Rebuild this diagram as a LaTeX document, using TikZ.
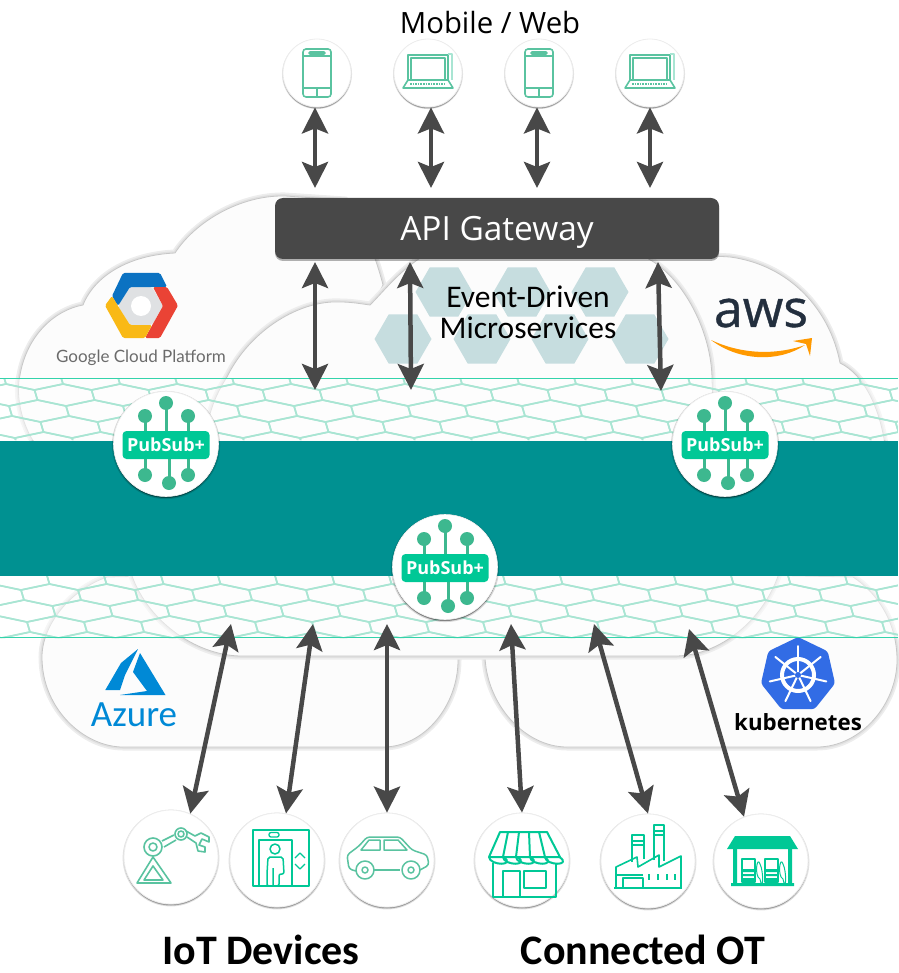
\documentclass[tikz,border=0pt]{standalone}
\usepackage{fontspec}
\setmainfont{Carlito}
\newfontfamily\sansfont{Open Sans}
\newfontfamily\logofont{Lato}
\newfontfamily\awsfont[FakeBold=0.7]{Open Sans}
\usetikzlibrary{arrows.meta,shadows,shapes.geometric}

\definecolor{bandteal}{HTML}{009191}
\definecolor{meshgreen}{HTML}{A9E5D3}
\definecolor{brightgreen}{HTML}{00C896}
\definecolor{softgreen}{HTML}{3DB88F}
\definecolor{linegray}{HTML}{484848}
\definecolor{cloudwhite}{HTML}{FCFCFC}
\definecolor{hexblue}{HTML}{C6DDDF}
\definecolor{helmblue}{HTML}{326CE5}
\definecolor{awsnavy}{HTML}{232F3E}
\definecolor{awsorange}{HTML}{FF9900}
\definecolor{azureblue}{HTML}{0089D6}
\definecolor{gcpblue}{HTML}{0B72C2}
\definecolor{gcpred}{HTML}{EA4335}
\definecolor{gcpyellow}{HTML}{F9B916}
\definecolor{gcpgray}{HTML}{DFE1E3}

\tikzset{
  softline/.style={draw=softgreen!85,line width=1.6pt,line join=round,fill=none},
  brightline/.style={draw=brightgreen,line width=2pt,line join=round,fill=none},
  pics/pubsub/.style={code={
    \node [badge] (-disc) at (0,0) {};
    \foreach \dx/\dy in {-21/-28,0/-41,22/-28,-21/31,3/39,22/31} {
      \draw [draw=softgreen,line width=3pt] (\dx,0) -- (\dx,\dy);
      \fill [softgreen] (\dx,\dy) circle [radius=7];
    }
    \node [pubsubtag] (-tag) at (0,1) {PubSub+};
  }},
  pics/phoneicon/.style={code={
    \draw [softline,rounded corners=3pt] (-14,-24) rectangle (14,24);
    \draw [softline] (-14,-17) -- (14,-17) (-14,15) -- (14,15) (0,15) -- (0,24);
    \draw [softline,rounded corners=1pt] (-8,-21) rectangle (8,-19);
  }},
  pics/laptopicon/.style={code={
    \draw [softline] (-20,7) -- (-20,-18) -- (20,-18) -- (20,7);
    \draw [softline] (-17,7) -- (-17,-15) -- (17,-15) -- (17,7);
    \draw [softline,draw=meshgreen] (24,7) -- (24,-19) -- (20,-19);
    \draw [softline] (-20,7) -- (20,7) -- (25,15) -- (-25,15) -- cycle;
    \draw [softline,densely dotted] (-18,11) -- (18,11);
  }},
  pics/roboticon/.style={code={
    \draw [softline] (-18,0) -- (-34,26) -- (0,26) -- cycle;
    \draw [softline] (-18,9) -- (-27,23) -- (-8,23) -- cycle;
    \draw [softline] (-18,-10) circle [radius=9] (-18,-10) circle [radius=4];
    \draw [softline] (-9,-16) -- (3,-22) (-7,-10) -- (5,-17);
    \draw [softline] (10,-23) circle [radius=6] (10,-23) circle [radius=3];
    \draw [softline] (16,-20) -- (25,-14) -- (27,-6) -- (34,-5) -- (34,-10) -- (28,-12)
      -- (31,-18) -- (38,-15) -- (38,-20) -- (30,-24) -- (24,-21) -- (15,-26);
  }},
  pics/elevatoricon/.style={code={
    \draw [brightline,line width=1.5pt] (-24,-30) rectangle (32,26);
    \draw [brightline,line width=1.5pt] (-18,26) -- (-18,-20) -- (15,-20) -- (15,26);
    \draw [brightline,line width=1.3pt,rounded corners=2pt] (-8,-27.5) rectangle (2,-23);
    \draw [brightline,line width=1.5pt] (-2,-11) circle [radius=5];
    \draw [brightline,line width=1.5pt,rounded corners=2pt] (-4,26) -- (-4,8) (-4,26) -- (-10,26) -- (-10,14) -- (-9,-3) -- (6,-3) -- (7,14)
      -- (2,14) -- (2,26) -- (-4,26);
    \draw [brightline,line width=1.3pt] (18,-2) -- (23,-7) -- (28,-2) (18,4) -- (23,9) -- (28,4);
  }},
  pics/caricon/.style={code={
    \draw [softline,line width=1.5pt,rounded corners=3pt] (-31,11) -- (-38,9) -- (-40,-5) -- (-28,-14) -- (-20,-23) -- (13,-23) -- (25,-10) -- (40,-5)
      -- (42,5) -- (33,10);
    \draw [softline,line width=1.5pt] (-13,10) -- (13,10);
    \draw [softline,line width=1.5pt] (-22,10) circle [radius=9] (-22,10) circle [radius=3];
    \draw [softline,line width=1.5pt] (24,10) circle [radius=9] (24,10) circle [radius=3];
    \draw [softline,line width=1.5pt] (-26,-10) -- (-18,-20) -- (-7,-20) -- (-7,-10) -- cycle;
    \draw [softline,line width=1.5pt] (-3,-10) -- (-3,-20) -- (11,-20) -- (20,-10) -- cycle;
  }},
  pics/storeicon/.style={code={
    \draw [brightline] (-22,-28) -- (25,-28) -- (38,-3) -- (-33,-3) -- cycle;
    \foreach \xa/\xb in {-14/-19,-3/-6,7/8,17/23} { \draw [brightline] (\xa,-28) -- (\xb,-3); }
    \foreach \xc in {-33,-19,-6,8,23} {
      \draw [brightline] (\xc,-3) .. controls +(1,9) and +(13,9) .. ++(14.5,0);
    }
    \draw [brightline] (-29,3) -- (-29,37) -- (34,37) -- (34,3);
    \draw [brightline] (-19,37) -- (-19,11) -- (-2,11) -- (-2,37);
    \draw [brightline] (2,11) rectangle (24,28);
  }},
  pics/factoryicon/.style={code={
    \draw [brightline,line width=1.6pt] (-32,26) -- (-32,6) -- (-11,-4) -- (-10,6) -- (11,-6) -- (11,6) -- (33,-5) -- (33,26);
    \draw [brightline,line width=1.6pt] (-16,1) -- (-16,-26) -- (-4,-26) -- (-4,-2) (6,-1) -- (6,-36) -- (16,-36) -- (16,0);
    \draw [brightline,line width=1.6pt] (-16,-20) -- (-4,-20) (-16,-16) -- (-4,-16) (6,-30) -- (16,-30) (6,-26) -- (16,-26);
    \draw [brightline,line width=1.6pt] (-34,27) -- (34,27);
    \draw [brightline,line width=1.6pt] (-25,26) -- (-25,17) -- (-5,17) -- (-5,26) (-32,14) -- (-5,14);
    \foreach \xt in {1,10,19,27} { \draw [brightline,line width=1.6pt] (\xt,13) -- (\xt,19); }
  }},
  pics/pumpicon/.style={code={
    \fill [brightgreen] (-26,-25) -- (29,-25) -- (37,-12) -- (-34,-12) -- cycle;
    \fill [brightgreen] (-28,-12) rectangle (-24,23) (27,-12) rectangle (31,23) (-30,22) rectangle (33,25);
    \foreach \xp in {-19,4} {
      \draw [brightline,line width=1.3pt] (\xp,-2) rectangle ++(13,23);
      \fill [brightgreen] (\xp,8) rectangle ++(13,3) (\xp,13) rectangle ++(13,2) (\xp,17) rectangle ++(13,4);
      \draw [brightline,line width=1pt] (\xp+18,3) .. controls +(4,8) and +(3,15) .. ++(0,15) .. controls +(-6,-3) and +(-3,-9) .. ++(0,-15);
    }
  }}
}

\begin{document}
\begin{tikzpicture}[x=1pt,y=-1pt]
    \tikzstyle{every node}=[inner sep=0pt]
    \tikzstyle{cloudshape}=[fill=cloudwhite,draw=black!22,line width=.8pt,
                            preaction={draw=black!7,line width=7pt},
                            preaction={draw=black!12,line width=3.5pt}]
    \tikzstyle{meshcell}=[draw=meshgreen,line width=1.6pt,line join=round]
    \tikzstyle{edgeline}=[draw=brightgreen!80,line width=.9pt]
    \tikzstyle{duplex}=[draw=linegray,line width=4.5pt,
                        {Stealth[length=26pt,width=26pt,inset=5pt]}-{Stealth[length=26pt,width=26pt,inset=5pt]}]
    \tikzstyle{hexcell}=[regular polygon,regular polygon sides=6,minimum size=57pt,fill=hexblue]
    \tikzstyle{badge}=[circle,minimum size=105pt,fill=white,draw=black!6,line width=.6pt,
                       drop shadow={shadow xshift=0pt,shadow yshift=-1pt,shadow scale=1.03,opacity=.15,fill=black},
                       drop shadow={shadow xshift=0pt,shadow yshift=-1.5pt,opacity=.4,fill=black}]
    \tikzstyle{pubsubtag}=[rounded corners=4pt,fill=brightgreen,text=white,minimum width=87pt,minimum height=28pt,
                           font=\sansfont\bfseries\fontsize{18}{20}\selectfont]
    \tikzstyle{topdevice}=[circle,minimum size=68pt,fill=white,draw=black!7,line width=.8pt,
                           drop shadow={shadow xshift=0pt,shadow yshift=-1pt,shadow scale=1.03,opacity=.12,fill=black},
                           drop shadow={shadow xshift=0pt,shadow yshift=-1.5pt,opacity=.3,fill=black}]
    \tikzstyle{lowdevice}=[topdevice,minimum size=94pt]
    \tikzstyle{captionbold}=[font=\bfseries\fontsize{42}{44}\selectfont]

    \useasboundingbox (0,0) rectangle (898,973);

    % Draw clouds behind the bands
    \draw [cloudshape] (40,450) .. controls (22,430) and (15,395) .. (20,375)
      .. controls (27,335) and (55,310) .. (83,305) .. controls (95,275) and (130,255) .. (175,253)
      .. controls (195,222) and (240,195) .. (285,196) -- (345,200) .. controls (365,225) and (378,265) .. (383,285)
      -- (300,450) -- cycle;
    \draw [cloudshape] (640,262) .. controls (665,255) and (700,255) .. (730,257)
      .. controls (790,265) and (830,310) .. (840,363) .. controls (865,375) and (880,410) .. (885,445)
      -- (640,445) -- cycle;
    \draw [cloudshape] (205,450) .. controls (205,420) and (215,395) .. (227,377)
      .. controls (250,330) and (300,300) .. (340,302) .. controls (352,302) and (362,304) .. (370,305)
      .. controls (385,290) and (400,270) .. (425,255) -- (640,255)
      .. controls (680,270) and (712,330) .. (712,380) -- (715,450) -- cycle;
    \draw [cloudshape] (107,577) .. controls (70,590) and (42,625) .. (42,657)
      .. controls (42,710) and (85,747) .. (123,747) -- (383,747)
      .. controls (425,747) and (458,705) .. (458,660) -- (458,570) -- cycle;
    \draw [cloudshape] (485,570) -- (485,657) .. controls (487,705) and (525,747) .. (567,747) -- (817,747)
      .. controls (860,747) and (897,705) .. (897,660) .. controls (897,625) and (880,595) .. (853,577) -- cycle;
    \draw [cloudshape] (130,570) .. controls (145,620) and (195,655) .. (240,656) -- (677,656)
      .. controls (720,655) and (765,620) .. (780,570) -- cycle;

    % Draw microservice hexagons
    \foreach \hx/\hy [count=\h] in {444/292,522/292,600/292,403/339,482/339,560/339,640/339} {
        \node [hexcell] (hex\h) at (\hx,\hy) {};
    }
    \node [align=center,font=\fontsize{31.5}{31}\selectfont] (services) at (528,312) {Event-Driven\\Microservices};

    % Draw mesh bands
    \fill [white,opacity=.5] (0,378) rectangle (898,440) (0,576) rectangle (898,638);
    \begin{scope}
        \clip (0,378) rectangle (898,440) (0,576) rectangle (898,638);
        \foreach \rowy [count=\r] in {368,384,400,416,432,568,584,600,616,632} {
            \foreach \col in {-2,...,16} {
                \pgfmathsetmacro{\cellx}{\col*57+mod(\r,2)*28.5+3*\r}
                \draw [meshcell] (\cellx-28.5,\rowy+6) -- (\cellx,\rowy) -- (\cellx+28.5,\rowy+6)
                    -- (\cellx+31.5,\rowy+16) -- (\cellx+3,\rowy+22) -- (\cellx-25.5,\rowy+16) -- cycle;
            }
        }
    \end{scope}
    \draw [edgeline] (0,378) -- (898,378) (0,637.5) -- (898,637.5);
    \fill [bandteal] (0,440.5) rectangle (898,575.5);

    % Draw cloud logos
    \fill [rounded corners=2pt,fill=gcpgray] (118,306) -- (130,287) -- (152,287) -- (163,306) -- (152,325) -- (130,325) -- cycle;
    \fill [white] (141,306) circle [radius=10];
    \fill [rounded corners=1.5pt,fill=gcpblue] (112,296) -- (123,273) -- (160,273) -- (167,287) -- (130,287) -- (118,306) -- cycle;
    \fill [rounded corners=1.5pt,fill=gcpred] (153,287) -- (167,287) -- (178,305.5) -- (160,338) -- (145,338) -- (163,306) -- cycle;
    \fill [rounded corners=1.5pt,fill=gcpyellow] (105,305.5) -- (112,296) -- (118,306) -- (130,325) -- (152,325) -- (145,338) -- (123,338) -- cycle;
    \node [text=black!58,font=\logofont\fontsize{17}{19}\selectfont] (google) at (141,358) {Google Cloud Platform};

    \node [text=awsnavy,font=\awsfont\fontsize{52}{54}\selectfont] (aws) at (761,313) {aws};
    \fill [awsorange] (711,340) .. controls (740,362) and (780,362) .. (805,345)
      .. controls (780,354) and (745,356) .. cycle;
    \fill [awsorange] (793,341) -- (812,338) -- (810,356) -- (806,344) -- cycle;

    \fill [azureblue] (105.3,690) -- (121,663) -- (138,649) -- (125,675) -- (120,690) -- cycle;
    \fill [azureblue] (140,653) -- (165.5,695) -- (120,695) -- (147,691) -- (133,672) -- cycle;
    \node [text=azureblue,font=\fontsize{37}{39}\selectfont] (azure) at (134,715) {Azure};

    \node [regular polygon,regular polygon sides=7,minimum size=76pt,fill=helmblue,rounded corners=3pt] (helm) at (798,675) {};
    \draw [white,line width=4pt] (798,675) circle [radius=16];
    \foreach \k in {0,...,6} {
        \draw [white,line width=2pt,line cap=round] (798,675) -- ++(270+\k*51.43:29);
    }
    \fill [helmblue] (798,675) circle [radius=3];
    \node [font=\sansfont\bfseries\fontsize{22.3}{25}\selectfont] (k8s) at (798,722) {kubernetes};

    % Draw devices on top
    \node [font=\sansfont\fontsize{29.3}{31}\selectfont] (mobile) at (490,23) {Mobile / Web};
    \node [topdevice] (phoneA) at (317,73) {};
    \node [topdevice] (laptopA) at (428,73) {};
    \node [topdevice] (phoneB) at (539,73) {};
    \node [topdevice] (laptopB) at (650,73) {};
    \pic at (phoneA) {phoneicon};
    \pic at (laptopA) {laptopicon};
    \pic at (phoneB) {phoneicon};
    \pic at (laptopB) {laptopicon};

    % Draw devices below
    \node [lowdevice] (robot) at (171,857) {};
    \node [lowdevice] (elevator) at (277,860) {};
    \node [lowdevice] (car) at (387,860) {};
    \node [lowdevice] (store) at (522,860) {};
    \node [lowdevice] (factory) at (648,861) {};
    \node [lowdevice] (pump) at (761,861) {};
    \pic at (robot) {roboticon};
    \pic at (elevator) {elevatoricon};
    \pic at (car) {caricon};
    \pic at (store) {storeicon};
    \pic at (factory) {factoryicon};
    \pic at (pump) {pumpicon};
    \node [captionbold] (iot) at (261,950) {IoT Devices};
    \node [captionbold] (ot) at (643,950) {Connected OT};

    % Draw gateway and brokers
    \node [fill=linegray,rounded corners=8pt,minimum width=444pt,minimum height=61pt,text=white,
           text depth=0pt,font=\sansfont\fontsize{33.4}{35}\selectfont,
           drop shadow={shadow xshift=0pt,shadow yshift=-2pt,opacity=.3,fill=black}] (gateway) at (497,228.5) {API Gateway};
    \pic (brokerW) at (166,444) {pubsub};
    \pic (brokerE) at (725,444) {pubsub};
    \pic (brokerS) at (445,567) {pubsub};

    % Free ends of the arrows
    \foreach \nm/\px/\py in {gwA/315/188,gwB/431/188,gwC/537/188,gwD/650/188,
                             portA/315/262,portB/410/262,portC/658/262,
                             meshA/315/390,meshB/411/390,meshC/661/391,
                             cellA/231/624,cellB/313/624,cellC/387/624,
                             cellD/511/624,cellE/594/624,cellF/689/629} {
        \coordinate (\nm) at (\px,\py);
    }

    % Draw arrows
    \draw [duplex] (gwA |- phoneA.south) -- (gwA);
    \draw [duplex] (gwB |- laptopA.south) -- (gwB);
    \draw [duplex] (gwC |- phoneB.south) -- (gwC);
    \draw [duplex] (gwD |- laptopB.south) -- (gwD);
    \draw [duplex] (portA) -- (meshA);
    \draw [duplex] (portB) -- (meshB);
    \draw [duplex] (portC) -- (meshC);
    \draw [duplex] (robot.66) -- (cellA);
    \draw [duplex] (elevator.79) -- (cellB);
    \draw [duplex] (car.north) -- (cellC);
    \draw [duplex] (store.north) -- (cellD);
    \draw [duplex] (factory.north) -- (cellE);
    \draw [duplex] (pump.111) -- (cellF);
\end{tikzpicture}
\end{document}
